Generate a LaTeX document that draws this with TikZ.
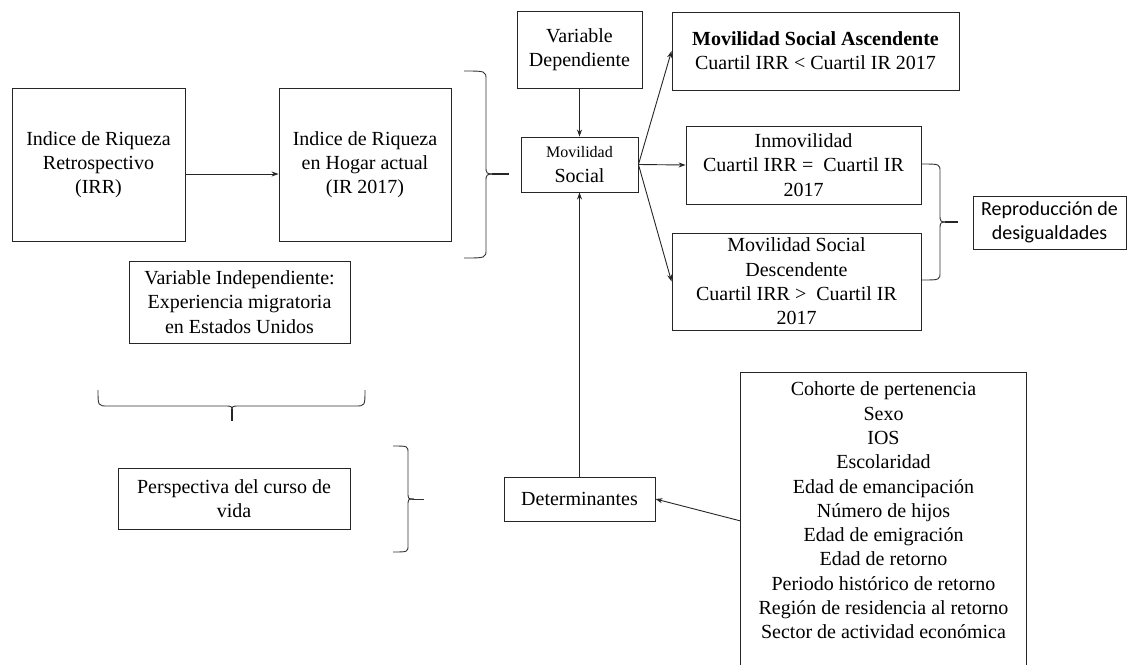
\documentclass[tikz,border=0pt]{standalone}
\usepackage{fontspec}
\setmainfont{Liberation Serif}
\newfontfamily\calibri{Carlito}
\usetikzlibrary{arrows.meta}
\begin{document}
\begin{tikzpicture}[x=1pt,y=-1pt,
  box/.style={draw=black!85,line width=0.9pt,inner sep=0pt,align=center,
    font=\fontsize{20}{24.3}\selectfont},
  arr/.style={draw=black!85,line width=0.9pt,-{Stealth[length=7pt,width=5pt]}},
  brace/.style={draw=black!80,line width=0.9pt},
  tip/.style={draw=black!85,line width=1.6pt}]
\useasboundingbox (0,0) rectangle (1128,665);
% boxes
\node[box,minimum width=173,minimum height=153] (irr) at (98.5,164.5) {Indice de Riqueza\\Retrospectivo\\(IRR)};
\node[box,minimum width=172,minimum height=153] (ir) at (365,164.5) {Indice de Riqueza\\en Hogar actual\\(IR 2017)};
\node[box,minimum width=221,minimum height=82] (vi) at (239.5,302) {Variable Independiente:\\Experiencia migratoria\\en Estados Unidos};
\node[box,minimum width=125,minimum height=77] (vd) at (579.5,49.5) {Variable\\Dependiente};
\node[box,minimum width=117,minimum height=55] (ms) at (579.5,164.5) {{\fontsize{16}{20}\selectfont Movilidad}\\Social};
\node[box,minimum width=287,minimum height=78] (asc) at (815.5,51) {\textbf{Movilidad Social Ascendente}\\Cuartil IRR < Cuartil IR 2017};
\node[box,minimum width=235,minimum height=78] (inm) at (803.5,165) {Inmovilidad\\Cuartil IRR =\ \ Cuartil IR\\2017};
\node[box,minimum width=249,minimum height=97] (desc) at (796.5,281.5) {Movilidad Social\\Descendente\\Cuartil IRR >\ \ Cuartil IR\\2017};
\node[box,minimum width=153,minimum height=53,font=\calibri\fontsize{20}{23.5}\selectfont] (rep) at (1049.5,222.5) {Reproducción de\\desigualdades};
\node[box,minimum width=232,minimum height=61] (persp) at (234,498.5) {Perspectiva del curso de\\vida};
\node[box,minimum width=151,minimum height=44] (det) at (579.5,499) {Determinantes};
% list box (open at bottom)
\node[inner sep=0pt,minimum width=285,minimum height=292] (list) at (883.5,519) {};
\draw[draw=black!85,line width=0.9pt] (list.south west) -- (list.north west) -- (list.north east) -- (list.south east);
\node[inner sep=0pt,align=center,font=\fontsize{20}{24.3}\selectfont] (listtxt) at (883.5,510.5)
 {Cohorte de pertenencia\\Sexo\\IOS\\Escolaridad\\Edad de emancipación\\Número de hijos\\Edad de emigración\\Edad de retorno\\Periodo histórico de retorno\\Región de residencia al retorno\\Sector de actividad económica};
% arrows
\draw[arr] ([yshift=-9.5pt]irr.east) -- ([yshift=-9.5pt]ir.west);
\draw[arr] (vd.south) -- (ms.north);
\draw[arr] (det.north) -- (ms.south);
\draw[arr] (ms.east) -- (asc.west);
\draw[arr] (ms.east) -- (inm.west);
\draw[arr] (ms.east) -- (desc.west);
\draw[arr] ([yshift=-2pt]list.west) -- (det.east);
% brace 1
\draw[brace] (464,71) .. controls (486,71) and (486,71) .. (486,80) -- (486,166)
  .. controls (486,174) .. (496,174);
\draw[brace] (496,174) .. controls (486,174) .. (486,182) -- (486,249)
  .. controls (486,258) and (486,258) .. (464,258);
\draw[tip] (492,174) -- (509,174);
% brace 2
\draw[brace] (922,164) .. controls (940,164) and (940,164) .. (940,172) -- (940,214)
  .. controls (940,222) .. (948,222);
\draw[brace] (948,222) .. controls (940,222) .. (940,230) -- (940,272)
  .. controls (940,280) and (940,280) .. (922,280);
\draw[tip] (945,222) -- (958,222);
% brace 3
\draw[brace] (393,446) .. controls (408,446) and (408,446) .. (408,453) -- (408,492)
  .. controls (408,499) .. (414,499);
\draw[brace] (414,499) .. controls (408,499) .. (408,506) -- (408,545)
  .. controls (408,552) and (408,552) .. (393,552);
\draw[brace] (412,499) -- (424,499);
% bottom brace
\draw[brace] (98,390) .. controls (98,406) and (98,406) .. (108,406) -- (225,406)
  .. controls (232,406) .. (232,412);
\draw[brace] (232,412) .. controls (232,406) .. (239,406) -- (355,406)
  .. controls (365,406) and (365,406) .. (365,390);
\draw[tip] (232,409) -- (232,421);
\end{tikzpicture}
\end{document}
